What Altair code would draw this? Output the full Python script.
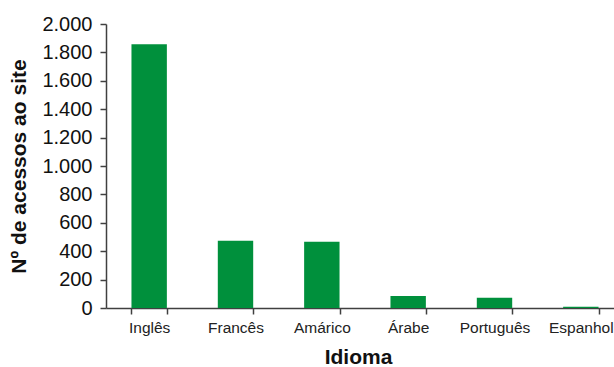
import altair as alt
import pandas as pd

idiomas = ["Inglês", "Francês", "Amárico", "Árabe", "Português", "Espanhol"]
acessos = [1858, 473, 466, 85, 72, 8]

df = pd.DataFrame({"Idioma": idiomas, "Acessos": acessos})

FONT = "Liberation Sans"
AXIS_COLOR = "#404040"

chart = alt.Chart(df).mark_bar(color="#00903c").encode(
    x=alt.X(
        "Idioma:N",
        sort=idiomas,
        scale=alt.Scale(paddingInner=0.59, paddingOuter=0.295, range=[0, 518]),
        axis=alt.Axis(
            title="Idioma",
            labelAngle=0,
            labelFont=FONT,
            labelFontSize=15.5,
            labelColor="#222",
            labelPadding=6,
            tickBand="extent",
            tickSize=6,
            tickColor=AXIS_COLOR,
            tickWidth=1.5,
            domainColor=AXIS_COLOR,
            domainWidth=1.5,
            titleFont=FONT,
            titleFontSize=21,
            titleFontWeight="bold",
            titleColor="#111",
            titlePadding=11,
            titleX=252,
        ),
    ),
    y=alt.Y(
        "Acessos:Q",
        scale=alt.Scale(domain=[0, 2000], nice=False),
        axis=alt.Axis(
            title="Nº de acessos ao site",
            values=list(range(0, 2001, 200)),
            labelExpr="replace(format(datum.value, ','), ',', '.')",
            labelFont=FONT,
            labelFontSize=20,
            labelColor="#111",
            labelPadding=8,
            tickSize=6,
            tickColor=AXIS_COLOR,
            tickWidth=1.5,
            domainColor=AXIS_COLOR,
            domainWidth=1.5,
            grid=False,
            titleFont=FONT,
            titleFontSize=21,
            titleFontWeight="bold",
            titleColor="#111",
            titlePadding=12,
        ),
    ),
).properties(
    width=508,
    height=284,
    autosize=alt.AutoSizeParams(type="none"),
    padding={"left": 106, "top": 24, "right": 0, "bottom": 59},
).configure_view(stroke=None)

chart.save("out.html", embed_options={"renderer": "svg", "actions": False})
